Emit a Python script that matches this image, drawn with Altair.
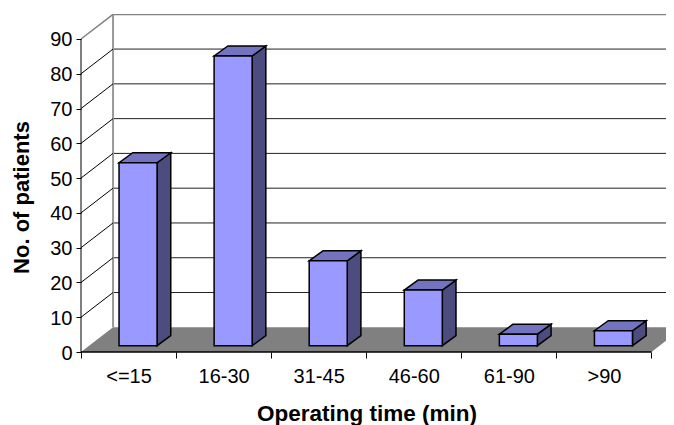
import altair as alt
import pandas as pd

categories = ["<=15", "16-30", "31-45", "46-60", "61-90", ">90"]
patients = [52.6, 83.3, 24.4, 16.0, 3.3, 4.3]
y_ticks = [0, 10, 20, 30, 40, 50, 60, 70, 80, 90]

# oblique projection constants, in data units
WALL_DX, WALL_DY = 0.337, 7.1
BAR_DX, BAR_DY = 0.144, 2.875
BAR_L, BAR_R, BAR_BASE = 0.40, 0.80, 1.81
PLOT_W = 585
XMAX = PLOT_W / 95.08
YMAX = 338 / 3.478

FONT = "Liberation Sans"
GRAY = "#808080"
xs = alt.Scale(domain=[0, XMAX], nice=False, zero=False)
ys = alt.Scale(domain=[0, YMAX], nice=False, zero=False)

label_js = "[" + ",".join('"%s"' % c for c in categories) + "]"
x_axis = alt.Axis(
    values=[v / 2 for v in range(13)],
    domain=False, grid=False, tickSize=6, tickColor="black", tickWidth=1,
    tickOpacity={"condition": {"test": "datum.value % 1 != 0", "value": 0}, "value": 1},
    labelExpr=f"datum.value % 1 ? {label_js}[floor(datum.value)] : ''",
    labelFont=FONT, labelFontSize=20, labelColor="black", labelPadding=8,
    labelOverlap=False, labelFlush=False, labelAngle=0,
    title="Operating time (min)", titleFont=FONT, titleFontSize=22.5, titleFontWeight="bold",
    titleColor="black", titleX=285.5, titleY=68, titleBaseline="alphabetic", titleAnchor="middle",
)
y_axis = alt.Axis(
    values=y_ticks, domain=False, grid=False, tickSize=5, tickColor="black", tickWidth=1,
    labelFont=FONT, labelFontSize=20, labelColor="black", labelPadding=4, labelOffset=1,
    title="No. of patients", titleFont=FONT, titleFontSize=22, titleFontWeight="bold",
    titleColor="black", titleX=-53, titleY=183, titleBaseline="alphabetic", titleAnchor="middle",
)


def X(f):
    return alt.X(f, type="quantitative", scale=xs, axis=x_axis)


def Y(f):
    return alt.Y(f, type="quantitative", scale=ys, axis=y_axis)


# back wall
grid = pd.DataFrame({"x": WALL_DX, "x2": XMAX + 1, "y": [v + WALL_DY for v in y_ticks[1:-1]]})
grid_layer = alt.Chart(grid).mark_rule(color="#222222", strokeWidth=1, clip=True).encode(
    x=X("x"), x2="x2", y=Y("y")
)
top_layer = alt.Chart(pd.DataFrame({"x": [WALL_DX], "x2": [XMAX + 1], "y": [y_ticks[-1] + WALL_DY]})).mark_rule(
    color=GRAY, strokeWidth=2, clip=True
).encode(x=X("x"), x2="x2", y=Y("y"))
back_edge = alt.Chart(pd.DataFrame({"x": [WALL_DX], "y": [WALL_DY], "y2": [y_ticks[-1] + WALL_DY]})).mark_rule(
    color="#999999", strokeWidth=2
).encode(x=X("x"), y=Y("y"), y2="y2")

# left wall diagonals
diag = pd.DataFrame(
    [{"v": v, "x": px, "y": v + py} for v in y_ticks for px, py in [(0, 0), (WALL_DX, WALL_DY)]]
)
diag_black = alt.Chart(diag[(diag.v > 0) & (diag.v < 90)]).mark_line(color="black", strokeWidth=1).encode(
    x=X("x"), y=Y("y"), detail="v:N"
)
diag_gray = alt.Chart(diag[diag.v == 90]).mark_line(color=GRAY, strokeWidth=1.5).encode(
    x=X("x"), y=Y("y"), detail="v:N"
)

# floor
floor = pd.DataFrame({"y": [0, WALL_DY], "x": [0, WALL_DX], "x2": [6, 6 + WALL_DX]})
floor_layer = alt.Chart(floor).mark_area(color=GRAY, orient="horizontal", clip=True).encode(
    y=Y("y"), x=X("x"), x2="x2"
)

# axis lines
axis_y = alt.Chart(pd.DataFrame({"x": [0], "y": [0], "y2": [90]})).mark_rule(color="black", strokeWidth=1).encode(
    x=X("x"), y=Y("y"), y2="y2"
)
axis_x = alt.Chart(pd.DataFrame({"x": [0], "x2": [6], "y": [0]})).mark_rule(color="black", strokeWidth=1.5).encode(
    x=X("x"), x2="x2", y=Y("y")
)

# bars
front, side, top = [], [], []
for i, (c, v) in enumerate(zip(categories, patients)):
    l, r = i + BAR_L, i + BAR_R
    front.append({"c": c, "x": l, "x2": r, "y": BAR_BASE, "y2": BAR_BASE + v})
    side += [
        {"c": c, "x": r, "y": BAR_BASE + v, "y2": BAR_BASE},
        {"c": c, "x": r + BAR_DX, "y": BAR_BASE + v + BAR_DY, "y2": BAR_BASE + BAR_DY},
    ]
    top += [
        {"c": c, "y": BAR_BASE + v, "x": l, "x2": r},
        {"c": c, "y": BAR_BASE + v + BAR_DY, "x": l + BAR_DX, "x2": r + BAR_DX},
    ]

stroke = dict(stroke="black", strokeWidth=1.5, strokeJoin="miter")
side_layer = alt.Chart(pd.DataFrame(side)).mark_area(fill="#4C4C7F", **stroke).encode(
    x=X("x"), y=Y("y"), y2="y2", detail="c:N"
)
top_face = alt.Chart(pd.DataFrame(top)).mark_area(fill="#7373BF", orient="horizontal", **stroke).encode(
    y=Y("y"), x=X("x"), x2="x2", detail="c:N"
)
front_layer = alt.Chart(pd.DataFrame(front)).mark_rect(fill="#9999FF", **stroke).encode(
    x=X("x"), x2="x2", y=Y("y"), y2="y2"
)

chart = alt.layer(
    grid_layer, top_layer, back_edge, diag_black, diag_gray, floor_layer,
    axis_y, axis_x, side_layer, top_face, front_layer,
).properties(
    width=PLOT_W, height=338,
    autosize=alt.AutoSizeParams(type="none"),
    padding={"left": 73, "top": 6, "right": 0, "bottom": 73},
    background="white",
).configure_view(stroke=None)

chart.save("out.html", embed_options={"renderer": "svg", "actions": False})
